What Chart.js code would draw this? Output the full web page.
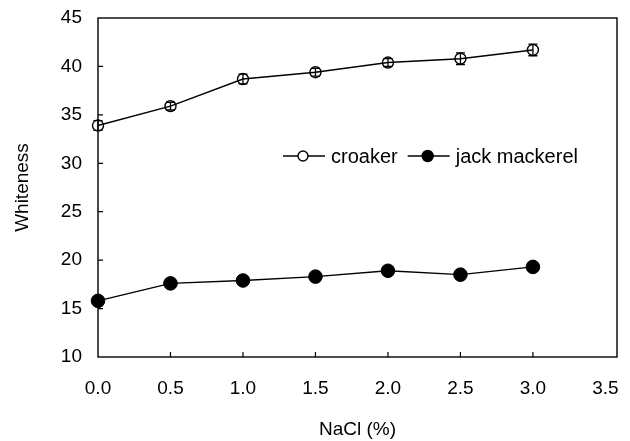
<!DOCTYPE html>
<html>
<head>
<meta charset="utf-8">
<script src="https://cdn.jsdelivr.net/npm/chart.js@4.4.1/dist/chart.umd.min.js"></script>
<style>
  html, body { margin: 0; padding: 0; background: #fff; }
  #wrap { width: 630px; height: 441px; }
</style>
</head>
<body>
<div id="wrap"><canvas id="myChart" width="630" height="441"></canvas></div>
<script>
// values
const nacl = [0.0, 0.5, 1.0, 1.5, 2.0, 2.5, 3.0];
const croaker = [33.9, 35.9, 38.7, 39.4, 40.4, 40.8, 41.7];
const croakerErr = [0.5, 0.4, 0.5, 0.4, 0.4, 0.6, 0.6];
const mackerel = [15.8, 17.6, 17.9, 18.3, 18.9, 18.5, 19.3];
const xTicks = [0.0, 0.5, 1.0, 1.5, 2.0, 2.5, 3.0, 3.5];
const yTicks = [10, 15, 20, 25, 30, 35, 40, 45];

const FONT = 'Liberation Sans, Arial, sans-serif';
Chart.defaults.font.family = FONT;
Chart.defaults.color = '#000';

const toPts = (ys) => ys.map((v, i) => ({ x: nacl[i], y: v }));

// box around the plot, inward ticks, error bars, and the legend inside the plot
const extras = {
  id: 'extras',
  beforeDatasetsDraw(chart) {
    const { ctx, chartArea: a, scales: { x, y } } = chart;
    ctx.save();
    ctx.strokeStyle = '#000';
    ctx.lineWidth = 1.4;
    ctx.strokeRect(a.left, a.top, a.right - a.left, a.bottom - a.top);
    ctx.lineWidth = 1.2;
    ctx.beginPath();
    yTicks.slice(1, -1).forEach(v => {
      const py = y.getPixelForValue(v);
      ctx.moveTo(a.left, py); ctx.lineTo(a.left + 5, py);
    });
    xTicks.slice(1, -1).forEach(v => {
      const px = x.getPixelForValue(v);
      ctx.moveTo(px, a.bottom); ctx.lineTo(px, a.bottom - 5);
    });
    ctx.stroke();
    ctx.restore();
  },
  afterDatasetsDraw(chart) {
    const { ctx, scales: { x, y } } = chart;
    ctx.save();
    ctx.strokeStyle = '#000';
    ctx.lineWidth = 1.3;
    ctx.beginPath();
    croaker.forEach((v, i) => {
      const px = x.getPixelForValue(nacl[i]);
      const hi = y.getPixelForValue(v + croakerErr[i]);
      const lo = y.getPixelForValue(v - croakerErr[i]);
      ctx.moveTo(px, hi); ctx.lineTo(px, lo);
      ctx.moveTo(px - 4.5, hi); ctx.lineTo(px + 4.5, hi);
      ctx.moveTo(px - 4.5, lo); ctx.lineTo(px + 4.5, lo);
    });
    ctx.stroke();

    // legend
    const items = chart.data.datasets;
    let lx = 283;
    const ly = 156;
    ctx.font = '20px ' + FONT;
    ctx.textBaseline = 'middle';
    ctx.fillStyle = '#000';
    items.forEach(ds => {
      ctx.lineWidth = 1.4;
      ctx.beginPath();
      ctx.moveTo(lx, ly); ctx.lineTo(lx + 42, ly);
      ctx.stroke();
      ctx.beginPath();
      ctx.arc(lx + 20, ly, ds.legendRadius, 0, Math.PI * 2);
      if (ds.pointBackgroundColor === '#000') { ctx.fill(); }
      else { ctx.fillStyle = '#fff'; ctx.fill(); ctx.fillStyle = '#000'; }
      ctx.stroke();
      ctx.fillText(ds.label, lx + 48, ly + 1);
      lx += 48 + ctx.measureText(ds.label).width + 10;
    });
    ctx.restore();
  }
};

new Chart(document.getElementById('myChart'), {
  type: 'line',
  data: {
    datasets: [
      {
        label: 'croaker',
        data: toPts(croaker),
        borderColor: '#000',
        borderWidth: 1.4,
        pointRadius: 5.5,
        pointBorderWidth: 1.4,
        pointBorderColor: '#000',
        pointBackgroundColor: 'rgba(0,0,0,0)',
        legendRadius: 5,
        tension: 0,
        clip: false
      },
      {
        label: 'jack mackerel',
        data: toPts(mackerel),
        borderColor: '#000',
        borderWidth: 1.4,
        pointRadius: 6.8,
        pointBorderWidth: 1,
        pointBorderColor: '#000',
        pointBackgroundColor: '#000',
        legendRadius: 5.5,
        tension: 0,
        clip: false
      }
    ]
  },
  options: {
    responsive: false,
    animation: false,
    layout: { padding: { top: 18, right: 13, left: 0, bottom: 0 } },
    plugins: {
      legend: { display: false },
      tooltip: { enabled: false }
    },
    scales: {
      x: {
        type: 'linear',
        min: 0,
        max: 3.58,
        afterBuildTicks: (s) => { s.ticks = xTicks.map(v => ({ value: v })); },
        afterFit: (s) => { s.height = 84; s.paddingLeft = 0; s.paddingRight = 0; },
        grid: { display: false, drawTicks: false },
        border: { display: false },
        ticks: {
          padding: 20,
          font: { size: 19 },
          callback: (v) => Number(v).toFixed(1)
        },
        title: {
          display: true,
          text: 'NaCl (%)',
          font: { size: 19 },
          padding: { top: 0, bottom: 0 }
        }
      },
      y: {
        min: 10,
        max: 45,
        afterBuildTicks: (s) => { s.ticks = yTicks.map(v => ({ value: v })); },
        afterFit: (s) => { s.width = 98; s.paddingTop = 0; s.paddingBottom = 0; },
        grid: { display: false, drawTicks: false },
        border: { display: false },
        ticks: {
          padding: 16,
          font: { size: 19 }
        },
        title: {
          display: true,
          text: 'Whiteness',
          font: { size: 19 },
          padding: { top: 11, bottom: 0 }
        }
      }
    }
  },
  plugins: [extras]
});
</script>
</body>
</html>
